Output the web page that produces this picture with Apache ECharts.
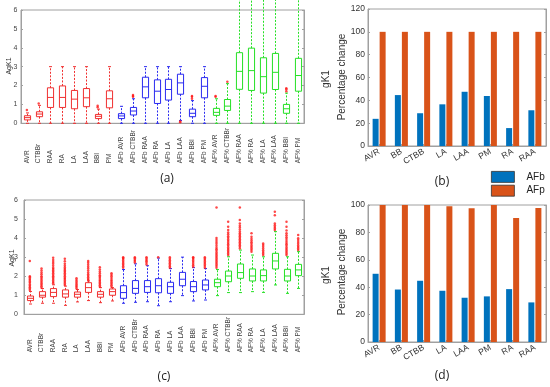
<!DOCTYPE html>
<html><head><meta charset="utf-8">
<script src="https://cdn.jsdelivr.net/npm/echarts@6/dist/echarts.min.js"></script>
<style>html,body{margin:0;padding:0;background:#fff}#c{width:550px;height:387px}</style>
</head><body><div id="c"></div>
<script>
// ---------- categories ----------
const boxCats = ['AVR','CTBBr','RAA','RA','LA','LAA','BBI','PM',
  'AFb AVR','AFb CTBBr','AFb RAA','AFb RA','AFb LA','AFb LAA','AFb BBI','AFb PM',
  'AF% AVR','AF% CTBBr','AF% RAA','AF% RA','AF% LA','AF% LAA','AF% BBI','AF% PM'];
const barCats = ['AVR','BB','CTBB','LA','LAA','PM','RA','RAA'];
const boxTicks = [0,1,2,3,4,5,6];

// ---------- panel (a) ----------
const aLow  = [0,0,0,0,0,0,0,0, 0,0,0,0,0,0.15,0,0, 0,0,0,0,0,0,0,0];
const aQ1   = [0.18,0.35,0.84,0.84,0.77,0.88,0.25,0.82, 0.25,0.44,1.35,1.05,1.23,1.54,0.35,1.35, 0.42,0.68,1.8,1.74,1.6,1.79,0.53,1.7];
const aMed  = [0.3,0.49,1.37,1.37,1.28,1.35,0.37,1.3, 0.39,0.65,1.93,1.7,1.79,2.14,0.53,1.96, 0.58,0.91,2.75,2.79,2.47,2.7,0.77,2.53];
const aQ3   = [0.4,0.61,1.88,1.98,1.74,1.84,0.47,1.72, 0.51,0.84,2.44,2.3,2.33,2.6,0.75,2.42, 0.79,1.26,3.74,3.98,3.47,3.7,1.0,3.44];
const aHigh = [0.55,0.95,3,3,3,3,0.75,3, 0.9,1.3,3,3,3,3,1.2,3, 1.3,2.1,6.6,6.6,6.6,6.6,1.6,6.6];
const aOut  = [[0.7],[1.05],[],[],[],[],[0.85,0.93],[],
  [],[1.4,1.45,1.5],[],[],[],[0.05,0.1],[1.3,1.4,1.45],[],
  [1.4,1.45],[2.2],[],[],[],[],[1.7,1.8,1.85],[]];

// ---------- panel (c) ----------
const cLow  = [0.54,0.58,0.58,0.47,0.65,0.72,0.61,0.7, 0.58,0.63,0.66,0.45,0.66,0.98,0.7,0.75, 0.98,1.14,1.14,1.19,1.15,1.54,1.1,1.36];
const cQ1   = [0.72,0.9,0.93,0.9,0.9,1.15,0.9,1.0, 0.84,1.1,1.15,1.13,1.1,1.5,1.19,1.28, 1.45,1.71,1.89,1.75,1.75,2.38,1.75,2.03];
const cMed  = [0.84,1.0,1.15,1.07,1.05,1.4,1.05,1.19, 1.14,1.36,1.45,1.5,1.45,1.84,1.45,1.54, 1.66,2.01,2.19,2.01,2.03,2.8,2.01,2.33];
const cQ3   = [0.96,1.19,1.35,1.28,1.17,1.66,1.19,1.33, 1.5,1.77,1.77,1.87,1.68,2.2,1.72,1.8, 1.84,2.27,2.64,2.38,2.33,3.2,2.36,2.62];
const cHigh = [1.2,1.35,1.55,1.48,1.3,1.75,1.4,1.4, 2.35,2.65,2.55,2.95,2.4,3.0,2.45,2.4, 2.35,3.02,3.37,3.11,3.02,4.34,3.02,3.29];
const cOut  = [
  [1.28,1.35,1.42,1.5,1.57,1.65,1.72,1.8,1.87,1.95,2.0,2.8],
  [1.4,1.47,1.55,1.62,1.7,1.78,1.85,1.93,2.0,2.1,2.2,2.3,2.41],
  [1.63,1.7,1.78,1.85,1.93,2.0,2.08,2.15,2.23,2.3,2.38,2.45,2.55,2.65,2.75,2.85,2.97],
  [1.54,1.62,1.7,1.77,1.85,1.92,2.0,2.08,2.15,2.23,2.3,2.38,2.46,2.55,2.65,2.78,2.92],
  [1.36,1.43,1.5,1.57,1.64,1.72,1.8,1.89],
  [1.8,1.87,1.95,2.02,2.1,2.2,2.3,2.4,2.5,2.6,2.7,2.8],
  [1.45,1.52,1.6,1.67,1.75,1.82,1.9,1.98,2.05,2.15,2.25,2.35,2.47],
  [1.45,1.52,1.6,1.67,1.75,1.82,1.9,2.0,2.08,2.15],
  [2.45,2.52,2.6,2.67,2.75,2.82,2.9,2.96,3.0],
  [2.72,2.8,2.87,2.94,3.0],
  [2.62,2.7,2.78,2.85,2.93,3.0],
  [3.0],
  [2.45,2.52,2.6,2.68,2.76,2.84,2.92,3.0],
  [],
  [2.5,2.58,2.66,2.74,2.82,2.9,2.97,3.0],
  [2.45,2.53,2.61,2.69,2.77,2.85,2.93,3.0],
  [2.45,2.53,2.61,2.69,2.77,2.85,2.93,3.01,3.09,3.17,3.25,3.33,3.41,3.5,3.6,3.7,3.8,3.9,4.0,5.61],
  [3.11,3.19,3.27,3.35,3.43,3.51,3.6,3.68,3.76,3.85,3.93,4.02,4.1,4.2,4.3,4.42,4.6,4.86],
  [3.46,3.54,3.62,3.7,3.78,3.86,3.94,4.02,4.1,4.18,4.26,4.35,4.45,4.55,4.65,4.77,4.95,5.61],
  [3.29,3.37,3.45,3.53,3.61,3.7,3.78,3.87,3.96,4.07,4.25],
  [3.11,3.19,3.27,3.36,3.45,3.55,3.64,3.72],
  [4.42,4.5,4.58,4.67,4.77,5.2,5.38],
  [3.11,3.19,3.27,3.35,3.43,3.51,3.6,3.68,3.76,3.85,3.95,4.05,4.15,4.25,4.4,4.6,4.86],
  [3.37,3.45,3.53,3.61,3.7,3.8,3.9,3.99,4.16]
];

// ---------- panels (b) and (d) ----------
const bAFb = [23.8,44.6,28.7,36.5,47.5,43.8,15.7,31.3];
const bAFp = [100,100,100,100,100,100,100,100];
const dAFb = [49.8,38.3,44.7,37.4,32.3,33.3,38.6,28.9];
const dAFp = [100,100,100,99,97.6,100,90.5,97.8];

// ---------- styling ----------
const groupColors = ['#f03030','#2a2af0','#25e025'];
const outColor = '#ff1a1a';
const FONT = 'Liberation Sans, Arial, sans-serif';

function renderBox(params, api) {
  const x = api.value(0);
  const color = groupColors[Math.floor(x / 8)];
  const hw = api.size([1, 0])[0] * 0.26;
  const pL = api.coord([x, api.value(1)]);
  const pQ1 = api.coord([x, api.value(2)]);
  const pM = api.coord([x, api.value(3)]);
  const pQ3 = api.coord([x, api.value(4)]);
  const pH = api.coord([x, api.value(5)]);
  const cx = Math.round(pM[0]) + 0.5;
  const dash = {stroke: color, lineWidth: 1, lineDash: [2, 1.5]};
  const solid = {stroke: color, lineWidth: 1};
  return {type: 'group', children: [
    {type: 'line', shape: {x1: cx, y1: pQ3[1], x2: cx, y2: pH[1]}, style: dash},
    {type: 'line', shape: {x1: cx, y1: pQ1[1], x2: cx, y2: pL[1]}, style: dash},
    {type: 'line', shape: {x1: cx - 1.5, y1: pH[1], x2: cx + 1.5, y2: pH[1]}, style: solid},
    {type: 'line', shape: {x1: cx - 1.5, y1: pL[1], x2: cx + 1.5, y2: pL[1]}, style: solid},
    {type: 'rect', shape: {x: cx - hw, y: pQ3[1], width: 2 * hw, height: pQ1[1] - pQ3[1]}, style: {fill: 'none', stroke: color, lineWidth: 1}},
    {type: 'line', shape: {x1: cx - hw, y1: pM[1], x2: cx + hw, y2: pM[1]}, style: solid}
  ]};
}

function boxData(lo, q1, md, q3, hi) {
  return lo.map((v, i) => [i, lo[i], q1[i], md[i], q3[i], hi[i]]);
}
function outData(out) {
  return out.flatMap((arr, i) => arr.map(v => [i, v]));
}

const gridBase = {show: true, borderColor: '#a0a0a0', borderWidth: 1, backgroundColor: '#fff', containLabel: false, outerBoundsMode: 'none'};
const grids = [
  Object.assign({left: 21, top: 10, width: 283, height: 113.3}, gridBase),
  Object.assign({left: 24, top: 200, width: 280, height: 114.3}, gridBase),
  Object.assign({left: 368, top: 9, width: 178, height: 137}, gridBase),
  Object.assign({left: 368, top: 205, width: 178, height: 137}, gridBase)
];

function boxX(gi, margin) {
  return {type: 'category', gridIndex: gi, data: boxCats,
    axisLine: {lineStyle: {color: '#a0a0a0'}}, axisTick: {show: false},
    axisLabel: {rotate: 90, align: 'left', margin: margin, fontSize: 6.5, color: '#444', fontFamily: FONT, interval: 0}};
}
function boxY(gi, pos, margin) {
  return {type: 'value', gridIndex: gi, position: pos, min: boxTicks[0], max: boxTicks[boxTicks.length - 1], interval: 1,
    axisLine: {show: true, lineStyle: {color: '#a0a0a0'}},
    axisTick: {show: true, inside: true, length: 2, lineStyle: {color: '#a0a0a0'}},
    splitLine: {show: false},
    axisLabel: {show: pos === 'left', fontSize: 7, color: '#444', margin: margin, fontFamily: FONT}};
}
function barX(gi) {
  return {type: 'category', gridIndex: gi, data: barCats,
    axisLine: {lineStyle: {color: '#a0a0a0'}},
    axisTick: {show: true, inside: true, length: 2, alignWithLabel: true, lineStyle: {color: '#a0a0a0'}},
    axisLabel: {rotate: 30, margin: 5, fontSize: 8.5, color: '#333', fontFamily: FONT, interval: 0}};
}
function barY(gi, max, pos) {
  return {type: 'value', gridIndex: gi, position: pos, min: 0, max: max, interval: 20,
    axisLine: {show: true, lineStyle: {color: '#a0a0a0'}},
    axisTick: {show: true, inside: true, length: 2, lineStyle: {color: '#a0a0a0'}},
    splitLine: {show: false},
    axisLabel: {show: pos === 'left', fontSize: 8.5, color: '#333', margin: 3, fontFamily: FONT}};
}

const option = {
  animation: false,
  backgroundColor: '#fff',
  grid: grids,
  xAxis: [boxX(0, 40), boxX(1, 38), barX(2), barX(3)],
  yAxis: [boxY(0, 'left', 3.5), boxY(0, 'right', 4), boxY(1, 'left', 6), boxY(1, 'right', 6),
          barY(2, 120, 'left'), barY(2, 120, 'right'), barY(3, 100, 'left'), barY(3, 100, 'right')],
  legend: {
    data: ['AFb', 'AFp'], orient: 'vertical', left: 486, top: 166,
    itemWidth: 23, itemHeight: 11, itemGap: 2, icon: 'rect',
    itemStyle: {borderColor: '#333', borderWidth: 0.8},
    textStyle: {fontSize: 10, color: '#222', fontFamily: FONT, padding: [0, 0, 0, 7]}
  },
  series: [
    {type: 'custom', xAxisIndex: 0, yAxisIndex: 0, renderItem: renderBox, clip: false,
      encode: {x: 0, y: [1, 2, 3, 4, 5]}, data: boxData(aLow, aQ1, aMed, aQ3, aHigh), z: 2},
    {type: 'scatter', xAxisIndex: 0, yAxisIndex: 0, data: outData(aOut), symbol: 'circle', symbolSize: 2.5,
      itemStyle: {color: outColor}, z: 3},
    {type: 'custom', xAxisIndex: 1, yAxisIndex: 2, renderItem: renderBox, clip: false,
      encode: {x: 0, y: [1, 2, 3, 4, 5]}, data: boxData(cLow, cQ1, cMed, cQ3, cHigh), z: 2},
    {type: 'scatter', xAxisIndex: 1, yAxisIndex: 2, data: outData(cOut), symbol: 'circle', symbolSize: 2.5,
      itemStyle: {color: outColor}, z: 3},
    {name: 'AFb', type: 'bar', xAxisIndex: 2, yAxisIndex: 4, data: bAFb, barWidth: 6, barGap: '17%',
      itemStyle: {color: '#0072BD'}},
    {name: 'AFp', type: 'bar', xAxisIndex: 2, yAxisIndex: 4, data: bAFp, barWidth: 6, barGap: '17%',
      itemStyle: {color: '#D95319'}},
    {name: 'AFb', type: 'bar', xAxisIndex: 3, yAxisIndex: 6, data: dAFb, barWidth: 6, barGap: '17%',
      itemStyle: {color: '#0072BD'}},
    {name: 'AFp', type: 'bar', xAxisIndex: 3, yAxisIndex: 6, data: dAFp, barWidth: 6, barGap: '17%',
      itemStyle: {color: '#D95319'}}
  ],
  graphic: [
    {type: 'text', x: 9.5, y: 66, rotation: Math.PI / 2, style: {text: 'AgK1', fill: '#333', font: '7px ' + FONT, align: 'center', verticalAlign: 'middle'}},
    {type: 'text', x: 12, y: 258, rotation: Math.PI / 2, style: {text: 'AgK1', fill: '#333', font: '7px ' + FONT, align: 'center', verticalAlign: 'middle'}},
    {type: 'text', x: 326, y: 79, rotation: Math.PI / 2, style: {text: 'gK1', fill: '#333', font: '10px ' + FONT, align: 'center', verticalAlign: 'middle'}},
    {type: 'text', x: 342, y: 77, rotation: Math.PI / 2, style: {text: 'Percentage change', fill: '#333', font: '10px ' + FONT, align: 'center', verticalAlign: 'middle'}},
    {type: 'text', x: 326, y: 275, rotation: Math.PI / 2, style: {text: 'gK1', fill: '#333', font: '10px ' + FONT, align: 'center', verticalAlign: 'middle'}},
    {type: 'text', x: 342, y: 272, rotation: Math.PI / 2, style: {text: 'Percentage change', fill: '#333', font: '10px ' + FONT, align: 'center', verticalAlign: 'middle'}},
    {type: 'text', x: 167, y: 179, style: {text: '(a)', fill: '#222', font: '12px Open Sans, ' + FONT, align: 'center', verticalAlign: 'middle'}},
    {type: 'text', x: 442, y: 182, style: {text: '(b)', fill: '#222', font: '12px Open Sans, ' + FONT, align: 'center', verticalAlign: 'middle'}},
    {type: 'text', x: 164, y: 377, style: {text: '(c)', fill: '#222', font: '12px Open Sans, ' + FONT, align: 'center', verticalAlign: 'middle'}},
    {type: 'text', x: 442, y: 376, style: {text: '(d)', fill: '#222', font: '12px Open Sans, ' + FONT, align: 'center', verticalAlign: 'middle'}}
  ]
};

const chart = echarts.init(document.getElementById('c'), null, {renderer: 'canvas'});
chart.setOption(option);
</script>
</body></html>
